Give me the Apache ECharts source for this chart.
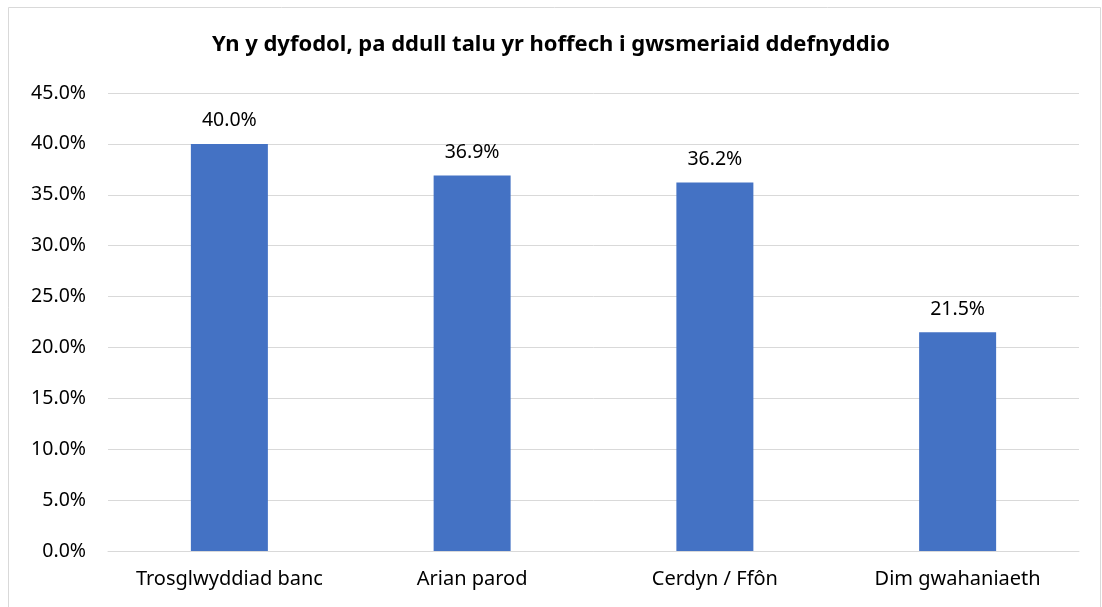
<!DOCTYPE html>
<html><head><meta charset="utf-8">
<script src="https://cdn.jsdelivr.net/npm/echarts@6/dist/echarts.min.js"></script>
<style>html,body{margin:0;padding:0;background:#fff}#c{width:1102px;height:607px}</style>
</head><body><div id="c"></div>
<script>
const categories = ["Trosglwyddiad banc", "Arian parod", "Cerdyn / Ffôn", "Dim gwahaniaeth"];
const values = [40.0, 36.9, 36.2, 21.5];
const titleText = "Yn y dyfodol, pa ddull talu yr hoffech i gwsmeriaid ddefnyddio";
const FONT = "Noto Sans";
const chart = echarts.init(document.getElementById('c'), null, {renderer: 'canvas'});
chart.setOption({
  animation: false,
  backgroundColor: '#fff',
  title: {text: titleText, left: 'center', top: 29,
    textStyle: {fontFamily: FONT, fontWeight: 'bold', fontSize: 22, color: '#000'}},
  graphic: [{type: 'rect', shape: {x: 8.5, y: 7.5, width: 1092, height: 640},
    style: {fill: 'none', stroke: '#d9d9d9', lineWidth: 1}, silent: true}],
  grid: {left: 108, right: 23, top: 93, bottom: 56, containLabel: false},
  xAxis: {type: 'category', data: categories,
    axisLine: {lineStyle: {color: '#d9d9d9', width: 1}}, axisTick: {show: false},
    axisLabel: {interval: 0, hideOverlap: false, fontFamily: FONT, fontSize: 20, color: '#000', margin: 18}},
  yAxis: {type: 'value', min: 0, max: 45, interval: 5,
    axisLine: {show: false}, axisTick: {show: false},
    splitLine: {lineStyle: {color: '#d9d9d9', width: 1}},
    axisLabel: {fontFamily: FONT, fontSize: 19.5, color: '#000', margin: 22,
      formatter: v => v.toFixed(1) + '%'}},
  series: [{type: 'bar', data: values, barWidth: 77, itemStyle: {color: '#4472c4'},
    label: {show: true, position: 'top', distance: 13, fontFamily: FONT, fontSize: 19.5, color: '#000',
      formatter: p => p.value.toFixed(1) + '%'}}]
});
</script></body></html>
